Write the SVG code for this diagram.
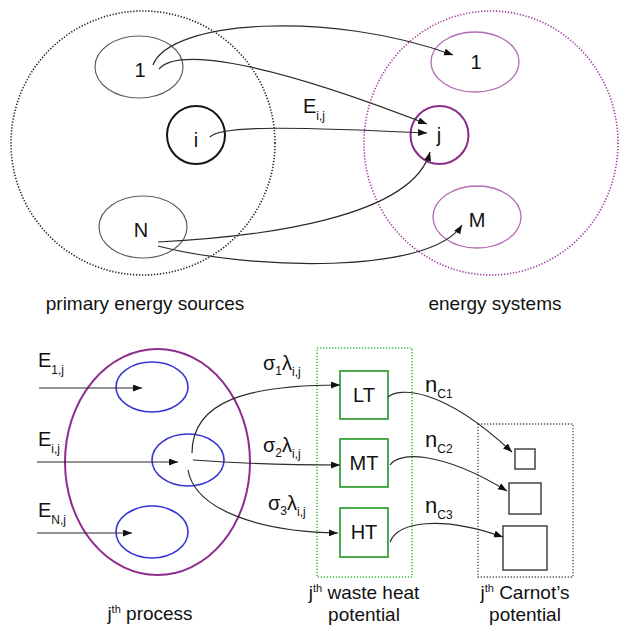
<svg xmlns="http://www.w3.org/2000/svg" width="619" height="626" viewBox="0 0 619 626">
<style>
text{font-family:"Liberation Sans",Arial,sans-serif;fill:#111}
.lbl{font-size:19px}
.nd{font-size:20px;text-anchor:middle}
.sym{font-size:20px}
.sub{font-size:12px}
.sup{font-size:11px}
.con{fill:none;stroke:#2a2a2a;stroke-width:1.2}
.gray{fill:none;stroke:#5e5e5e;stroke-width:1.2}
.lp{fill:none;stroke:#b46cb4;stroke-width:1.3}
.blue{fill:none;stroke:#3636d2;stroke-width:1.6}
.gbox{fill:#fff;stroke:#4caa4c;stroke-width:2}
.sq{fill:#fff;stroke:#444;stroke-width:1.5}
</style>
<defs>
<marker id="ah" markerUnits="userSpaceOnUse" markerWidth="10" markerHeight="8" refX="9" refY="3.5" orient="auto">
<path d="M0,0 L9,3.5 L0,7 z" fill="#111"/>
</marker>
</defs>

<g id="sources-group">
<circle cx="143" cy="143" r="132" fill="none" stroke="#222" stroke-width="1.6" stroke-dasharray="1.3 1.7"/>
<text class="lbl" x="145" y="310" text-anchor="middle">primary energy sources</text>
</g>
<g id="systems-group">
<ellipse cx="491" cy="143" rx="127" ry="132" fill="none" stroke="#a03ca0" stroke-width="1.6" stroke-dasharray="1.3 1.7"/>
<text class="lbl" x="495" y="310" text-anchor="middle">energy systems</text>
</g>

<g id="src-1"><ellipse class="gray" cx="139" cy="67" rx="44" ry="31"/><text class="nd" x="140" y="77">1</text></g>
<g id="src-i"><circle cx="196" cy="135" r="29" fill="none" stroke="#151515" stroke-width="2"/><text class="nd" x="196" y="147">i</text></g>
<g id="src-N"><ellipse class="gray" cx="143" cy="227" rx="44" ry="31"/><text class="nd" x="141" y="237">N</text></g>
<g id="sys-1"><ellipse class="lp" cx="475" cy="62" rx="44" ry="30"/><text class="nd" x="476" y="69">1</text></g>
<g id="sys-j"><circle cx="439.5" cy="135" r="29" fill="none" stroke="#8a2a8a" stroke-width="2"/><text class="nd" x="439" y="142">j</text></g>
<g id="sys-M"><ellipse class="lp" cx="477" cy="217" rx="44" ry="31"/><text class="nd" x="477" y="227">M</text></g>

<g id="process">
<ellipse cx="157.5" cy="462" rx="92.5" ry="113" fill="none" stroke="#8e2d8e" stroke-width="2"/>
<ellipse class="blue" cx="152" cy="387" rx="36" ry="25"/>
<ellipse class="blue" cx="188" cy="460" rx="36" ry="26"/>
<ellipse class="blue" cx="152" cy="532" rx="36" ry="26"/>
<text class="lbl" x="150" y="620" text-anchor="middle">j<tspan class="sup" dy="-7">th</tspan><tspan dy="7"> process</tspan></text>
</g>

<g id="waste-heat">
<rect x="317" y="348" width="95" height="229" fill="none" stroke="#3ec43e" stroke-width="1.6" stroke-dasharray="1.3 1.7"/>
<text class="lbl" x="364" y="599" text-anchor="middle">j<tspan class="sup" dy="-7">th</tspan><tspan dy="7"> waste heat</tspan></text>
<text class="lbl" x="364" y="621" text-anchor="middle">potential</text>
</g>
<g id="LT"><rect class="gbox" x="340" y="371" width="48" height="48"/><text class="nd" x="364" y="402">LT</text></g>
<g id="MT"><rect class="gbox" x="340" y="439" width="48" height="48"/><text class="nd" x="364" y="470">MT</text></g>
<g id="HT"><rect class="gbox" x="340" y="508" width="48" height="49"/><text class="nd" x="364" y="539">HT</text></g>

<g id="carnot">
<rect x="478" y="424" width="95" height="153" fill="none" stroke="#555" stroke-width="1.4" stroke-dasharray="1.3 1.7"/>
<rect class="sq" x="515" y="449" width="20" height="20"/>
<rect class="sq" x="509" y="483" width="32" height="31"/>
<rect class="sq" x="503" y="526" width="44" height="44"/>
<text class="lbl" x="525" y="599" text-anchor="middle">j<tspan class="sup" dy="-7">th</tspan><tspan dy="7"> Carnot’s</tspan></text>
<text class="lbl" x="525" y="621" text-anchor="middle">potential</text>
</g>

<g id="connectors">
<path class="con" marker-end="url(#ah)" d="M153,65 C170,20 330,10 453,55"/>
<path class="con" marker-end="url(#ah)" d="M159,69 C175,50 250,55 427,124"/>
<path class="con" marker-end="url(#ah)" d="M210,137 C220,125 300,127 427,133"/>
<path class="con" marker-end="url(#ah)" d="M158,242 C260,237 412,218 430,152"/>
<path class="con" marker-end="url(#ah)" d="M158,246 C250,270 430,275 462,225"/>
<text class="sym" x="303" y="113">E<tspan class="sub" dy="7">i,j</tspan></text>

<path class="con" marker-end="url(#ah)" d="M39,388 L142,388"/>
<path class="con" marker-end="url(#ah)" d="M37,462 L178,462"/>
<path class="con" marker-end="url(#ah)" d="M37,533 L132,533"/>
<text class="sym" x="38" y="367">E<tspan class="sub" dy="7">1,j</tspan></text>
<text class="sym" x="38" y="446">E<tspan class="sub" dy="7">i,j</tspan></text>
<text class="sym" x="38" y="517">E<tspan class="sub" dy="7">N,j</tspan></text>

<path class="con" marker-end="url(#ah)" d="M192,453 C192,400 250,385 340,385"/>
<path class="con" marker-end="url(#ah)" d="M193,460 C220,462 280,465 340,465"/>
<path class="con" marker-end="url(#ah)" d="M188,470 C195,510 260,532 338,533"/>
<text class="sym" x="263" y="370">σ<tspan class="sub" dy="5">1</tspan><tspan dy="-5">λ</tspan><tspan class="sub" dy="6">i,j</tspan></text>
<text class="sym" x="263" y="452">σ<tspan class="sub" dy="5">2</tspan><tspan dy="-5">λ</tspan><tspan class="sub" dy="6">i,j</tspan></text>
<text class="sym" x="268" y="510">σ<tspan class="sub" dy="5">3</tspan><tspan dy="-5">λ</tspan><tspan class="sub" dy="6">i,j</tspan></text>

<path class="con" marker-end="url(#ah)" d="M388,397 C398,388 440,385 512,452"/>
<path class="con" marker-end="url(#ah)" d="M390,465 C398,452 440,450 507,491"/>
<path class="con" marker-end="url(#ah)" d="M390,542 C398,522 440,515 503,537"/>
<text x="425" y="392" style="font-size:22px">n<tspan class="sub" dy="6">C1</tspan></text>
<text x="425" y="447" style="font-size:22px">n<tspan class="sub" dy="6">C2</tspan></text>
<text x="425" y="513" style="font-size:22px">n<tspan class="sub" dy="6">C3</tspan></text>
</g>
</svg>
